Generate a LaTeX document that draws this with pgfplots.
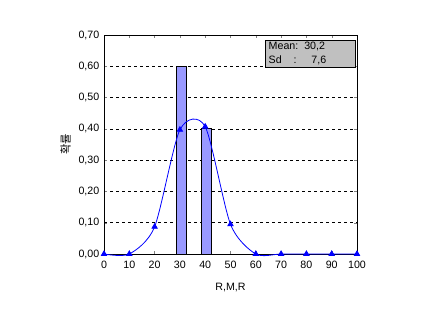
\documentclass[border=0pt]{standalone}
\usepackage{pgfplots}
\pgfplotsset{compat=1.18}
\usepackage{fontspec}
\setmainfont{Liberation Sans}
\newfontfamily\kr{Noto Sans CJK KR}
\definecolor{barfill}{RGB}{153,153,255}
\definecolor{boxgray}{RGB}{192,192,192}
\begin{document}
\begin{tikzpicture}[x=1pt,y=1pt]
\fill[white] (0,0) rectangle (321,243.75);
\begin{axis}[
  at={(78pt,53.25pt)}, anchor=south west,
  scale only axis, width=189.75pt, height=164.25pt,
  xmin=0, xmax=100, ymin=0, ymax=0.7,
  xtick={0,10,...,100}, ytick={0,0.1,...,0.7},
  font=\fontsize{8}{9}\selectfont,
  /pgf/number format/assume math mode=true,
  yticklabel style={/pgf/number format/.cd, fixed, fixed zerofill, precision=2, use comma},
  xticklabel style={yshift=-1.5pt, /pgf/number format/.cd, fixed, precision=0},
  scaled y ticks=false,
  tick align=inside, major tick length=2pt,
  ymajorgrids, grid style={black, dash pattern=on 2.5pt off 2pt, line width=0.5pt},
  axis line style={black, line width=0.6pt},
  xlabel={R,M,R}, ylabel={\kr\fontsize{8.5}{9}\selectfont 확률},
  xlabel style={yshift=-4pt},
  ylabel style={yshift=-1pt},
  clip=false,
]
\addplot[ybar, bar width=4, fill=barfill, draw=black, line width=0.6pt]
  coordinates {(6.3,0) (30.6,0.6) (40.6,0.4) (64.3,0)};
\addplot[blue, line width=0.6pt, smooth, tension=0.45, mark=triangle*, mark size=2.3pt,
  mark options={fill=blue, draw=blue}]
  coordinates {(0,0) (10,0) (20,0.087) (30,0.397) (40,0.407) (50,0.095) (60,0) (70,0) (80,0) (90,0) (100,0)};
\draw[fill=boxgray, line width=0.6pt] (rel axis cs:0.636,0.854) rectangle (rel axis cs:0.992,0.977);
\node[anchor=west, inner sep=0pt] at (rel axis cs:0.65,0.946) {Mean:\ \ 30,2};
\node[anchor=west, inner sep=0pt] at (rel axis cs:0.65,0.885) {Sd\ \ \ \ :\ \ \ \ \ 7,6};
\end{axis}
\end{tikzpicture}
\end{document}
